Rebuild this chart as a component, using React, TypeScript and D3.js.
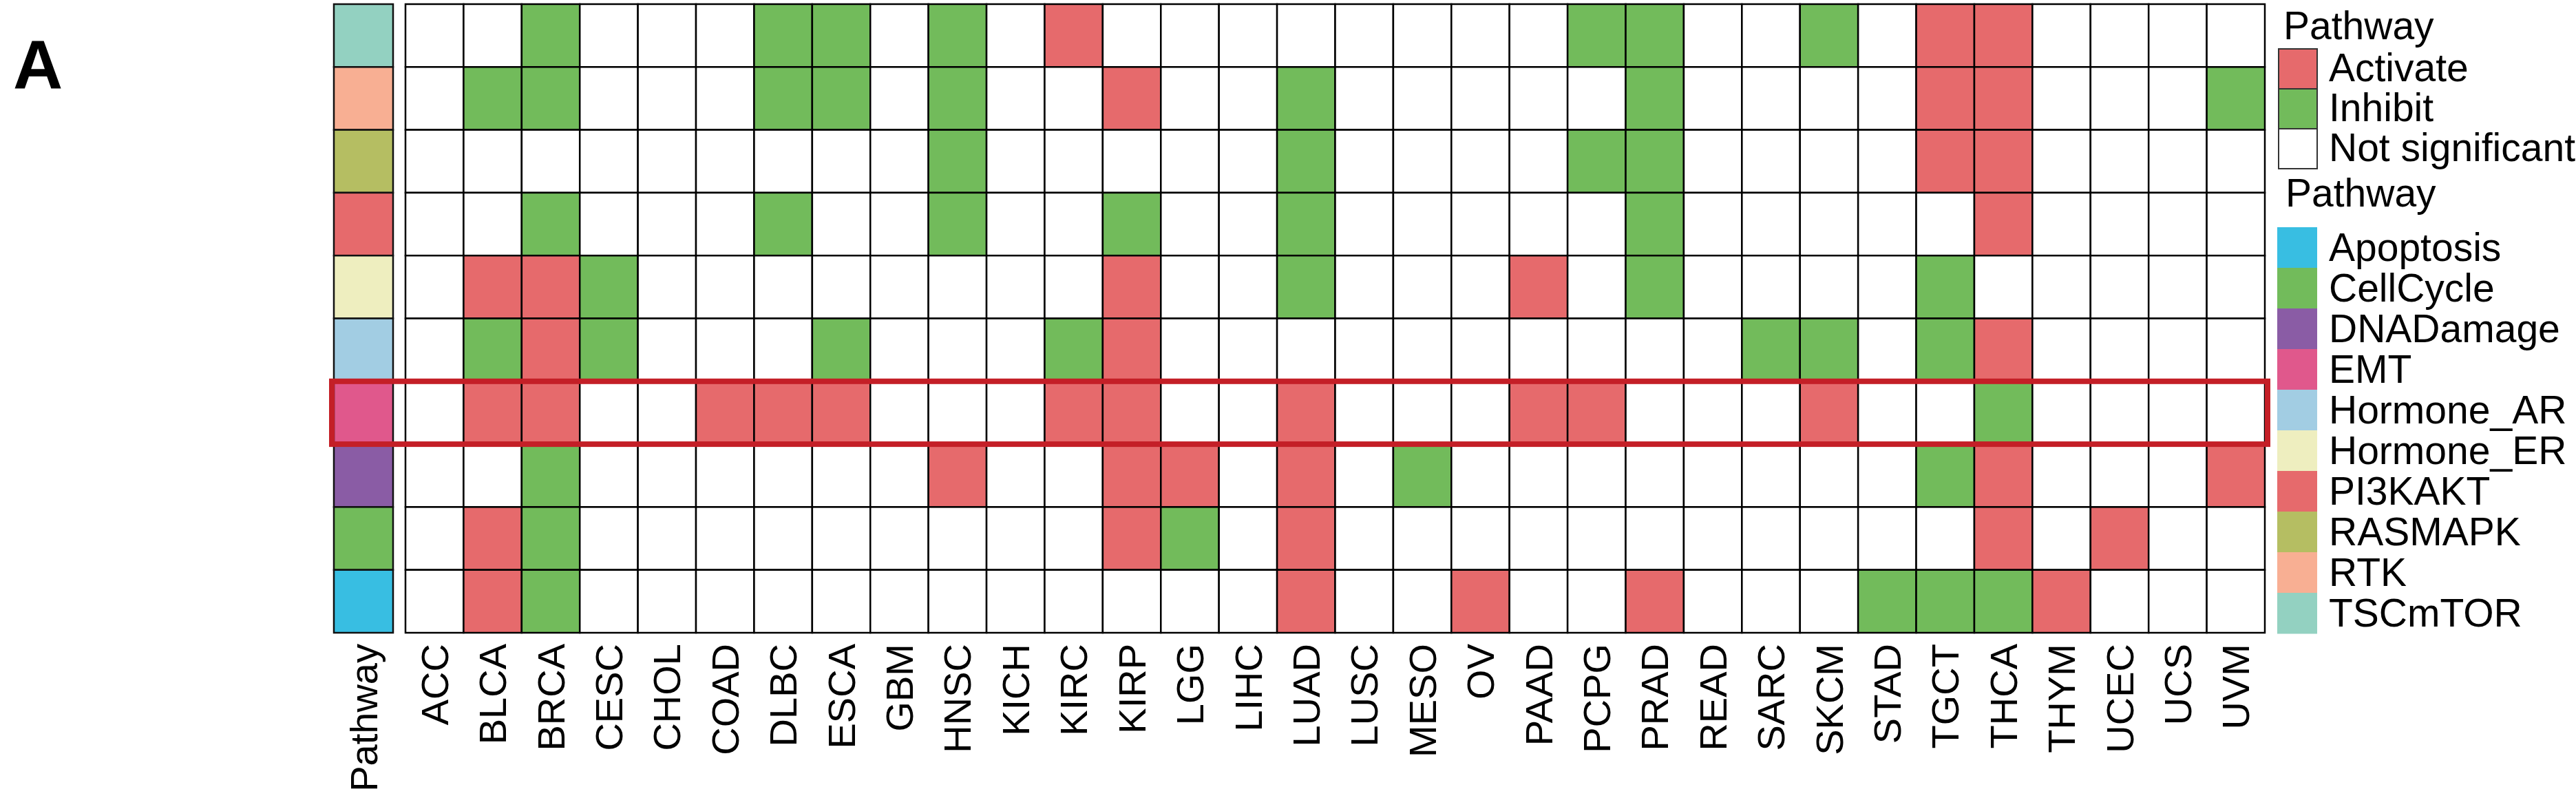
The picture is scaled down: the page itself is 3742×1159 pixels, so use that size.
import React from 'react';
import * as d3 from 'd3';

const cancers = ['ACC', 'BLCA', 'BRCA', 'CESC', 'CHOL', 'COAD', 'DLBC', 'ESCA', 'GBM', 'HNSC', 'KICH', 'KIRC', 'KIRP', 'LGG', 'LIHC', 'LUAD', 'LUSC', 'MESO', 'OV', 'PAAD', 'PCPG', 'PRAD', 'READ', 'SARC', 'SKCM', 'STAD', 'TGCT', 'THCA', 'THYM', 'UCEC', 'UCS', 'UVM'];

// heatmap rows, top to bottom
const pathways = ['TSCmTOR', 'RTK', 'RASMAPK', 'PI3KAKT', 'Hormone_ER', 'Hormone_AR', 'EMT', 'DNADamage', 'CellCycle', 'Apoptosis'];

// 1 = Activate, -1 = Inhibit, 0 = Not significant (one value per cancer)
const TSCmTOR = [0, 0, -1, 0, 0, 0, -1, -1, 0, -1, 0, 1, 0, 0, 0, 0, 0, 0, 0, 0, -1, -1, 0, 0, -1, 0, 1, 1, 0, 0, 0, 0];
const RTK = [0, -1, -1, 0, 0, 0, -1, -1, 0, -1, 0, 0, 1, 0, 0, -1, 0, 0, 0, 0, 0, -1, 0, 0, 0, 0, 1, 1, 0, 0, 0, -1];
const RASMAPK = [0, 0, 0, 0, 0, 0, 0, 0, 0, -1, 0, 0, 0, 0, 0, -1, 0, 0, 0, 0, -1, -1, 0, 0, 0, 0, 1, 1, 0, 0, 0, 0];
const PI3KAKT = [0, 0, -1, 0, 0, 0, -1, 0, 0, -1, 0, 0, -1, 0, 0, -1, 0, 0, 0, 0, 0, -1, 0, 0, 0, 0, 0, 1, 0, 0, 0, 0];
const Hormone_ER = [0, 1, 1, -1, 0, 0, 0, 0, 0, 0, 0, 0, 1, 0, 0, -1, 0, 0, 0, 1, 0, -1, 0, 0, 0, 0, -1, 0, 0, 0, 0, 0];
const Hormone_AR = [0, -1, 1, -1, 0, 0, 0, -1, 0, 0, 0, -1, 1, 0, 0, 0, 0, 0, 0, 0, 0, 0, 0, -1, -1, 0, -1, 1, 0, 0, 0, 0];
const EMT = [0, 1, 1, 0, 0, 1, 1, 1, 0, 0, 0, 1, 1, 0, 0, 1, 0, 0, 0, 1, 1, 0, 0, 0, 1, 0, 0, -1, 0, 0, 0, 0];
const DNADamage = [0, 0, -1, 0, 0, 0, 0, 0, 0, 1, 0, 0, 1, 1, 0, 1, 0, -1, 0, 0, 0, 0, 0, 0, 0, 0, -1, 1, 0, 0, 0, 1];
const CellCycle = [0, 1, -1, 0, 0, 0, 0, 0, 0, 0, 0, 0, 1, -1, 0, 1, 0, 0, 0, 0, 0, 0, 0, 0, 0, 0, 0, 1, 0, 1, 0, 0];
const Apoptosis = [0, 1, -1, 0, 0, 0, 0, 0, 0, 0, 0, 0, 0, 0, 0, 1, 0, 0, 1, 0, 0, 1, 0, 0, 0, -1, -1, -1, 1, 0, 0, 0];

const rowValues: Record<string, number[]> = { TSCmTOR, RTK, RASMAPK, PI3KAKT, Hormone_ER, Hormone_AR, EMT, DNADamage, CellCycle, Apoptosis };

const statusLevels = [1, -1, 0];
const statusLabels = ['Activate', 'Inhibit', 'Not significant'];
const statusColors = ['#E66A6C', '#72BB5B', '#FFFFFF'];

const legendPathways = ['Apoptosis', 'CellCycle', 'DNADamage', 'EMT', 'Hormone_AR', 'Hormone_ER', 'PI3KAKT', 'RASMAPK', 'RTK', 'TSCmTOR'];
const pathwayColors = ['#38BEE2', '#72BB5B', '#8A5CA5', '#E0588C', '#A2CDE3', '#EEEEBF', '#E66A6C', '#B5BE62', '#F8AF93', '#93D1C1'];

const highlighted = 'EMT';

const W = 3742;
const H = 1159;
const FONT = '"Liberation Sans", Arial, Helvetica, sans-serif';

export default function App() {
  const x = d3.scaleBand().domain(cancers).range([589, 3290]);
  const y = d3.scaleBand().domain(pathways).range([6, 919]);
  const fill = d3.scaleOrdinal<number, string>().domain(statusLevels).range(statusColors);
  const annot = d3.scaleOrdinal<string, string>().domain(legendPathways).range(pathwayColors);

  const annX = 485;
  const annW = 86;
  const labelTop = 935;

  const leg1 = d3.scaleBand().domain(statusLabels).range([71, 245]);
  const leg2 = d3.scaleBand().domain(legendPathways).range([330, 920]);

  const hy = y(highlighted)!;

  return (
    <svg width={W} height={H} style={{ position: 'absolute', left: 0, top: 0, display: 'block' }}
      fontFamily={FONT}>
      <rect width={W} height={H} fill="#fff" />

      <text x={19} y={129} fontSize={100} fontWeight="bold">A</text>

      {/* row annotation */}
      {pathways.map(p => (
        <rect key={'a' + p} x={annX} y={y(p)} width={annW} height={y.bandwidth()}
          fill={annot(p)} stroke="#111" strokeWidth={2.5} />
      ))}

      {/* heatmap cells */}
      {pathways.map(p => cancers.map((c, i) => (
        <rect key={p + c} x={x(c)} y={y(p)} width={x.bandwidth()} height={y.bandwidth()}
          fill={fill(rowValues[p][i])} stroke="#000" strokeWidth={2.5} />
      )))}

      {/* highlighted row */}
      <rect x={482} y={hy} width={3294 - 482} height={y.bandwidth()}
        fill="none" stroke="#C41F27" strokeWidth={8} />

      {/* column labels */}
      <text transform={`translate(${annX + annW / 2},${labelTop}) rotate(-90)`} textAnchor="end"
        dy="0.35em" fontSize={56}>Pathway</text>
      {cancers.map(c => (
        <text key={'l' + c} transform={`translate(${x(c)! + x.bandwidth() / 2},${labelTop}) rotate(-90)`}
          textAnchor="end" dy="0.35em" fontSize={56}>{c}</text>
      ))}

      {/* legend: status */}
      <text x={3317} y={57} fontSize={57}>Pathway</text>
      {statusLabels.map((s, i) => (
        <g key={s}>
          <rect x={3310} y={leg1(s)} width={56} height={leg1.bandwidth()} fill={statusColors[i]}
            stroke="#333" strokeWidth={2} />
          <text x={3383} y={leg1(s)! + leg1.bandwidth() / 2 + 18} fontSize={57}>{s}</text>
        </g>
      ))}

      {/* legend: pathway annotation */}
      <text x={3320} y={300} fontSize={57}>Pathway</text>
      {legendPathways.map(p => (
        <g key={'lg' + p}>
          <rect x={3308} y={leg2(p)} width={58} height={leg2.bandwidth() + 0.5} fill={annot(p)} />
          <text x={3383} y={leg2(p)! + leg2.bandwidth() / 2 + 19} fontSize={57}>{p}</text>
        </g>
      ))}
    </svg>
  );
}
